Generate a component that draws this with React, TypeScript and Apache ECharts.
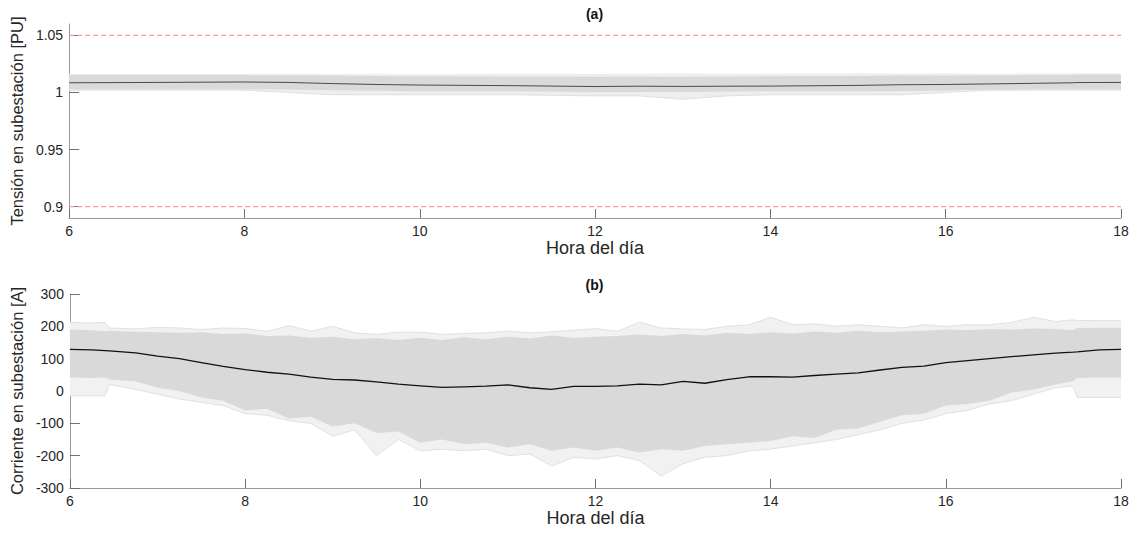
import React, { useEffect, useRef } from "react";
import * as echarts from "echarts";

// ---------- data: current (b) ----------
const hours = [6, 6.25, 6.4, 6.45, 6.75, 7, 7.25, 7.5, 7.75, 8, 8.25, 8.5, 8.75, 9, 9.25, 9.5, 9.75, 10, 10.25, 10.5, 10.75, 11, 11.25, 11.5, 11.75, 12, 12.25, 12.5, 12.75, 13, 13.25, 13.5, 13.75, 14, 14.25, 14.5, 14.75, 15, 15.25, 15.5, 15.75, 16, 16.25, 16.5, 16.75, 17, 17.25, 17.45, 17.5, 17.75, 18];
const currentMean = [129, 127, 125, 124, 118, 108, 100, 88, 76, 66, 58, 52, 43, 36, 34, 28, 21, 16, 11, 13, 15, 19, 10, 5, 14, 14, 16, 21, 19, 30, 24, 35, 44, 44, 43, 48, 52, 56, 65, 73, 77, 88, 94, 100, 106, 112, 117, 120, 121, 127, 129];
const currentUpper = [190, 188, 185, 186, 183, 182, 180, 182, 176, 178, 170, 172, 165, 168, 160, 164, 158, 165, 158, 166, 160, 168, 162, 172, 164, 168, 170, 175, 170, 176, 172, 180, 176, 182, 178, 184, 180, 186, 182, 184, 186, 190, 188, 192, 190, 193, 192, 188, 195, 196, 196];
const currentLower = [42, 40, 42, 35, 30, 10, 0, -20, -30, -60, -55, -85, -80, -110, -100, -130, -125, -160, -150, -165, -160, -175, -165, -185, -175, -185, -175, -190, -180, -185, -170, -165, -160, -155, -140, -145, -120, -115, -95, -75, -70, -45, -40, -30, -5, 5, 20, 30, 40, 42, 42];
const currentOuterUpper = [213, 210, 213, 195, 192, 197, 195, 190, 195, 193, 185, 202, 185, 200, 180, 175, 182, 182, 175, 178, 180, 185, 180, 183, 188, 193, 185, 213, 195, 192, 190, 200, 205, 228, 205, 208, 200, 205, 200, 195, 205, 200, 205, 205, 212, 228, 215, 220, 218, 218, 218];
const currentOuterLower = [-15, -15, -15, 20, 5, -10, -25, -35, -45, -70, -75, -92, -100, -140, -120, -200, -150, -185, -180, -185, -180, -200, -195, -232, -205, -210, -200, -215, -263, -225, -205, -200, -185, -180, -170, -160, -150, -135, -120, -100, -90, -70, -60, -40, -30, -10, 10, 15, -20, -20, -20];

// ---------- data: voltage (a) ----------
const voltHours = [6, 7, 8, 8.5, 9, 9.5, 10, 11, 12, 12.5, 13, 13.5, 14, 15, 15.5, 16, 16.5, 17, 17.45, 17.5, 18];
const voltMean = [1.0085, 1.0088, 1.0092, 1.0088, 1.0078, 1.007, 1.0065, 1.006, 1.0052, 1.0055, 1.0053, 1.0055, 1.0056, 1.0062, 1.0068, 1.007, 1.0075, 1.008, 1.0085, 1.0087, 1.0088];
const voltUpper = [1.0152, 1.0152, 1.0152, 1.015, 1.0148, 1.0145, 1.0142, 1.014, 1.0138, 1.0138, 1.0138, 1.014, 1.0142, 1.0145, 1.0148, 1.0148, 1.015, 1.0152, 1.0152, 1.0158, 1.0158];
const voltLower = [1.0028, 1.0028, 1.0028, 1.0025, 1.002, 1.0015, 1.001, 1.001, 1.0005, 1.0005, 1.0005, 1.0008, 1.001, 1.001, 1.0012, 1.0018, 1.0025, 1.0028, 1.0028, 1.0028, 1.0028];
const voltOuterUpper = [1.0165, 1.0165, 1.0165, 1.0165, 1.0162, 1.0165, 1.016, 1.0165, 1.0162, 1.0165, 1.0168, 1.0165, 1.0165, 1.0168, 1.0165, 1.0168, 1.0165, 1.0168, 1.0168, 1.0168, 1.0168];
const voltOuterLower = [1.002, 1.002, 1.002, 1.0, 0.998, 0.998, 0.998, 0.998, 0.997, 0.997, 0.994, 0.997, 0.998, 0.998, 0.998, 1.0, 1.002, 1.002, 1.002, 1.002, 1.002];
const voltageLimits = [1.05, 0.9];
const voltTicks = [0.9, 0.95, 1, 1.05];

const FONT = "'Liberation Sans', Arial, Helvetica, sans-serif";
const TEXT = "#262626";
const AXIS = "#9a9a9a";
const LIMIT_RED = "#ff9a9a";

function band(xs: number[], lo: number[], hi: number[], color: string, axis: number) {
  return {
    type: "custom",
    coordinateSystem: "cartesian2d",
    xAxisIndex: axis,
    yAxisIndex: axis,
    silent: true,
    data: xs.map((x, i) => [x, lo[i], hi[i]]),
    encode: { x: 0, y: [1, 2] },
    renderItem: (params: any, api: any) => {
      if (params.dataIndex !== 0) return { type: "group", children: [] };
      const pts: number[][] = [];
      for (let i = 0; i < xs.length; i++) pts.push(api.coord([xs[i], hi[i]]));
      for (let i = xs.length - 1; i >= 0; i--) pts.push(api.coord([xs[i], lo[i]]));
      return { type: "polygon", shape: { points: pts }, style: { fill: color, stroke: "none" } };
    },
  };
}

function edge(xs: number[], ys: number[], axis: number) {
  return {
    type: "line",
    xAxisIndex: axis,
    yAxisIndex: axis,
    data: xs.map((x, i) => [x, ys[i]]),
    symbol: "none",
    silent: true,
    color: "#dadada",
    lineStyle: { width: 0.8, color: "#dadada" },
  };
}

function xAxisCfg(gridIndex: number) {
  return {
    type: "value",
    gridIndex,
    min: 6,
    max: 18,
    interval: 2,
    name: "Hora del día",
    nameLocation: "middle",
    nameGap: 19,
    nameTextStyle: { fontSize: 18, color: TEXT, fontFamily: FONT },
    axisLine: { show: true, onZero: false, lineStyle: { color: AXIS, width: 1 } },
    axisTick: { show: true, inside: true, length: 9, lineStyle: { color: "#707070" } },
    axisLabel: { fontSize: 14, color: TEXT, fontFamily: FONT, margin: 6 },
    splitLine: { show: false },
  };
}

export default function App() {
  const ref = useRef<HTMLDivElement>(null);
  useEffect(() => {
    if (!ref.current) return;
    const chart = echarts.init(ref.current, null, { renderer: "svg" });
    const option: any = {
      animation: false,
      backgroundColor: "#ffffff",
      grid: [
        { left: 68, top: 24, width: 1053, height: 194 },
        { left: 68, top: 294, width: 1053, height: 194 },
      ],
      xAxis: [xAxisCfg(0), xAxisCfg(1)],
      yAxis: [
        {
          type: "value",
          gridIndex: 0,
          min: 0.89,
          max: 1.06,
          name: "Tensión en subestación [PU]",
          nameLocation: "middle",
          nameGap: 40,
          nameTextStyle: { fontSize: 16.5, color: TEXT, fontFamily: FONT },
          axisLine: { show: true, lineStyle: { color: AXIS, width: 1 } },
          axisTick: { show: true, inside: true, length: 10, customValues: voltTicks, lineStyle: { color: "#707070" } },
          axisLabel: { fontSize: 14, color: TEXT, fontFamily: FONT, margin: 6, customValues: voltTicks },
          splitLine: { show: false },
        },
        {
          type: "value",
          gridIndex: 1,
          min: -300,
          max: 300,
          interval: 100,
          name: "Corriente en subestación [A]",
          nameLocation: "middle",
          nameGap: 40,
          nameTextStyle: { fontSize: 16.5, color: TEXT, fontFamily: FONT },
          axisLine: { show: true, lineStyle: { color: AXIS, width: 1 } },
          axisTick: { show: true, inside: true, length: 10, lineStyle: { color: "#707070" } },
          axisLabel: { fontSize: 14, color: TEXT, fontFamily: FONT, margin: 6 },
          splitLine: { show: false },
        },
      ],
      graphic: [
        { type: "text", x: 594.5, y: 7, style: { text: "(a)", textAlign: "center", font: `bold 14px ${FONT}`, fill: "#111" } },
        { type: "text", x: 594.5, y: 278, style: { text: "(b)", textAlign: "center", font: `bold 14px ${FONT}`, fill: "#111" } },
      ],
      series: [
        // voltage
        band(voltHours, voltOuterLower, voltOuterUpper, "#eeeeee", 0),
        edge(voltHours, voltOuterLower, 0),
        band(voltHours, voltLower, voltUpper, "#d9d9d9", 0),
        {
          type: "line",
          xAxisIndex: 0,
          yAxisIndex: 0,
          data: voltHours.map((x, i) => [x, voltMean[i]]),
          symbol: "none",
          color: "#4a4a4a",
          lineStyle: { color: "#4a4a4a", width: 1 },
        },
        ...voltageLimits.map((v, k) => ({
          type: "line",
          name: "limit" + k,
          xAxisIndex: 0,
          yAxisIndex: 0,
          z: 5,
          data: [
            [6, v],
            [18, v],
          ],
          symbol: "none",
          color: LIMIT_RED,
          itemStyle: { color: LIMIT_RED },
          lineStyle: { color: LIMIT_RED, width: 1.2, type: [5, 3] },
        })),
        // current
        band(hours, currentOuterLower, currentOuterUpper, "#f1f1f1", 1),
        edge(hours, currentOuterUpper, 1),
        edge(hours, currentOuterLower, 1),
        band(hours, currentLower, currentUpper, "#d9d9d9", 1),
        {
          type: "line",
          xAxisIndex: 1,
          yAxisIndex: 1,
          data: hours.map((x, i) => [x, currentMean[i]]),
          symbol: "none",
          color: "#111111",
          lineStyle: { color: "#111111", width: 1.3 },
        },
      ],
    };
    chart.setOption(option);
    return () => chart.dispose();
  }, []);
  return <div ref={ref} style={{ position: "absolute", left: 0, top: 0, width: 1137, height: 533 }} />;
}
